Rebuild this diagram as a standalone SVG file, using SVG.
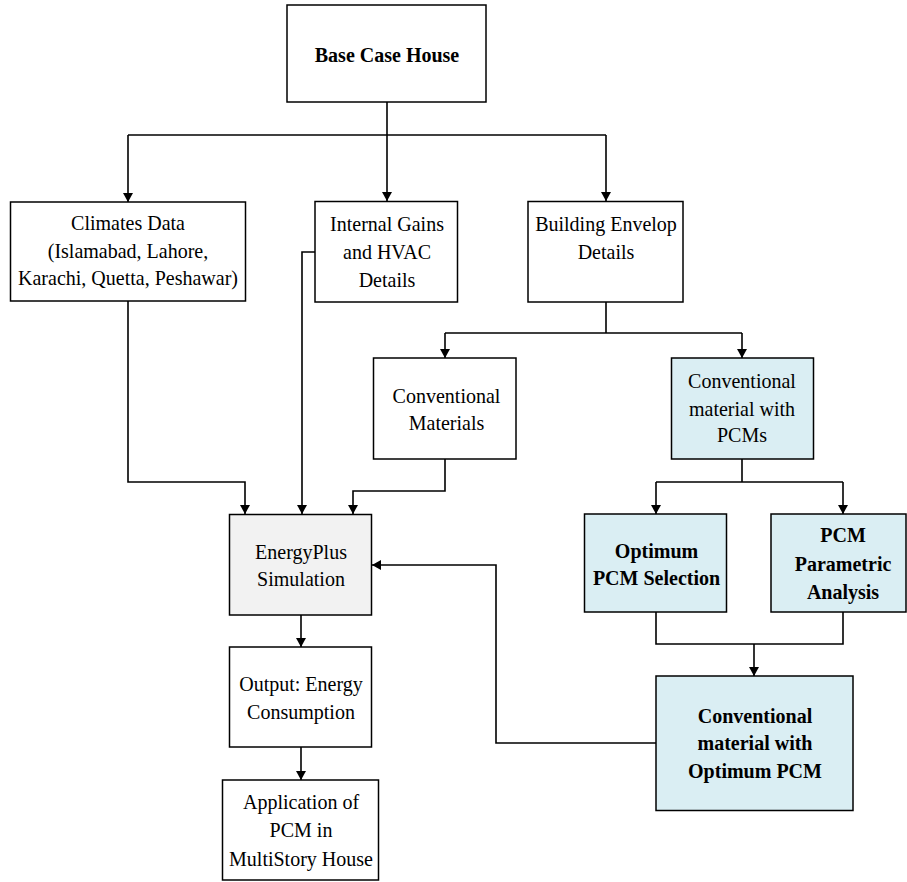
<svg xmlns="http://www.w3.org/2000/svg" width="907" height="882" viewBox="0 0 907 882">
<style>
.box{fill:#ffffff;stroke:#000;stroke-width:1.5}
.blue{fill:#DAEEF3;stroke:#000;stroke-width:1.5}
.grey{fill:#F2F2F2;stroke:#000;stroke-width:1.5}
text{font-family:"Liberation Serif","Times New Roman",serif;font-size:22px;text-anchor:middle;fill:#000}
.b{font-weight:bold}
.c{fill:none;stroke:#000;stroke-width:1.6}
</style>
<defs>
<marker id="ah" viewBox="0 0 9 10" refX="9" refY="5" markerWidth="9" markerHeight="10" markerUnits="userSpaceOnUse" orient="auto">
<path d="M0,0 L9,5 L0,10 z" fill="#000"/>
</marker>
</defs>
<rect width="907" height="882" fill="#fff"/>
<g id="connectors">
<path class="c" d="M387,102 V135"/>
<path class="c" d="M128,135 H606"/>
<path class="c" d="M128,135 V202" marker-end="url(#ah)"/>
<path class="c" d="M387,135 V201" marker-end="url(#ah)"/>
<path class="c" d="M606,135 V201" marker-end="url(#ah)"/>
<path class="c" d="M606,302 V333 M445,333 H742"/>
<path class="c" d="M445,333 V358" marker-end="url(#ah)"/>
<path class="c" d="M742,333 V358" marker-end="url(#ah)"/>
<path class="c" d="M742,459 V482 M656,482 H843"/>
<path class="c" d="M656,482 V514" marker-end="url(#ah)"/>
<path class="c" d="M843,482 V514" marker-end="url(#ah)"/>
<path class="c" d="M656,612 V644 H843 V612"/>
<path class="c" d="M754,644 V676" marker-end="url(#ah)"/>
<path class="c" d="M128,301 V482 H245 V514" marker-end="url(#ah)"/>
<path class="c" d="M315,252 H302 V514" marker-end="url(#ah)"/>
<path class="c" d="M445,459 V491 H353 V514" marker-end="url(#ah)"/>
<path class="c" d="M656,743 H496 V565 H372" marker-end="url(#ah)"/>
<path class="c" d="M301,615 V647" marker-end="url(#ah)"/>
<path class="c" d="M301,747 V780" marker-end="url(#ah)"/>
</g>
<g id="base-case-house">
<rect class="box" x="287" y="5" width="199" height="97"/>
<g transform="translate(387 0) scale(0.91 1)"><text class="b" x="0" y="62">Base Case House</text></g>
</g>
<g id="climates-data">
<rect class="box" x="10.5" y="202" width="235" height="99"/>
<g transform="translate(128 0) scale(0.91 1)">
<text x="0" y="230">Climates Data</text>
<text x="0" y="258">(Islamabad, Lahore,</text>
<text x="0" y="285">Karachi, Quetta, Peshawar)</text>
</g>
</g>
<g id="internal-gains">
<rect class="box" x="315" y="201.5" width="142.5" height="100.5"/>
<g transform="translate(387 0) scale(0.91 1)">
<text x="0" y="231">Internal Gains</text>
<text x="0" y="259">and HVAC</text>
<text x="0" y="287.5">Details</text>
</g>
</g>
<g id="building-envelop">
<rect class="box" x="528" y="201.5" width="155" height="100.5"/>
<g transform="translate(606 0) scale(0.91 1)">
<text x="0" y="231">Building Envelop</text>
<text x="0" y="259">Details</text>
</g>
</g>
<g id="conventional-materials">
<rect class="box" x="373.5" y="358" width="142.5" height="101"/>
<g transform="translate(446.5 0) scale(0.91 1)">
<text x="0" y="403">Conventional</text>
<text x="0" y="430">Materials</text>
</g>
</g>
<g id="conventional-with-pcms">
<rect class="blue" x="671.5" y="358" width="142" height="101"/>
<g transform="translate(742 0) scale(0.91 1)">
<text x="0" y="388">Conventional</text>
<text x="0" y="416.5">material with</text>
<text x="0" y="442.5">PCMs</text>
</g>
</g>
<g id="optimum-pcm-selection">
<rect class="blue" x="584.5" y="514" width="142" height="98"/>
<g transform="translate(656.5 0) scale(0.91 1)">
<text class="b" x="0" y="558">Optimum</text>
<text class="b" x="0" y="585">PCM Selection</text>
</g>
</g>
<g id="pcm-parametric-analysis">
<rect class="blue" x="771" y="514" width="135" height="98"/>
<g transform="translate(843 0) scale(0.91 1)">
<text class="b" x="0" y="542.5">PCM</text>
<text class="b" x="0" y="571.5">Parametric</text>
<text class="b" x="0" y="599">Analysis</text>
</g>
</g>
<g id="energyplus-simulation">
<rect class="grey" x="229.5" y="514.5" width="142" height="100.5"/>
<g transform="translate(301 0) scale(0.91 1)">
<text x="0" y="559">EnergyPlus</text>
<text x="0" y="586.5">Simulation</text>
</g>
</g>
<g id="output-energy">
<rect class="box" x="229.5" y="647" width="142" height="100"/>
<g transform="translate(301 0) scale(0.91 1)">
<text x="0" y="691.5">Output: Energy</text>
<text x="0" y="719">Consumption</text>
</g>
</g>
<g id="application-multistory">
<rect class="box" x="222.5" y="780" width="156" height="100"/>
<g transform="translate(301 0) scale(0.91 1)">
<text x="0" y="809">Application of</text>
<text x="0" y="837">PCM in</text>
<text x="0" y="866">MultiStory House</text>
</g>
</g>
<g id="conventional-optimum-pcm">
<rect class="blue" x="656" y="676" width="197" height="134.5"/>
<g transform="translate(755 0) scale(0.91 1)">
<text class="b" x="0" y="723">Conventional</text>
<text class="b" x="0" y="750.5">material with</text>
<text class="b" x="0" y="778">Optimum PCM</text>
</g>
</g>
</svg>
